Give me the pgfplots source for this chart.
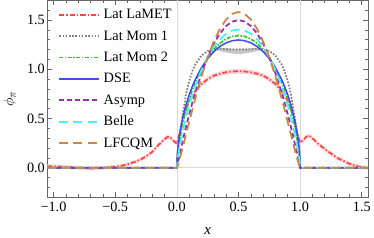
\documentclass[border=0pt]{standalone}
\usepackage{fontspec}
\setmainfont{Liberation Serif}
\usepackage{pgfplots}
\pgfplotsset{compat=1.18}
\usepackage{pgfplotstable}

\definecolor{cLaMET}{rgb}{1,0.28,0.28}
\definecolor{cMomA}{rgb}{0.5,0.5,0.5}
\definecolor{cMomB}{rgb}{0.25,0.75,0.2}
\definecolor{cDSE}{rgb}{0.28,0.28,0.95}
\definecolor{cAsy}{rgb}{0.58,0.2,0.68}
\definecolor{cBelle}{rgb}{0.3,0.95,0.95}
\definecolor{cLFC}{rgb}{0.8,0.53,0.27}

\pgfplotsset{
  sLaMET/.style={cLaMET, line width=1.8pt, dash pattern=on 5pt off 2pt on 1.5pt off 2pt},
  sMomA/.style={cMomA, line width=1.8pt, dash pattern=on 1.6pt off 1.6pt},
  sMomB/.style={cMomB, line width=1.8pt, dash pattern=on 4pt off 1.5pt on 1.5pt off 1.5pt},
  sDSE/.style={cDSE, line width=1.5pt},
  sAsy/.style={cAsy, line width=1.8pt, dash pattern=on 5pt off 3pt},
  sBelle/.style={cBelle, line width=1.8pt, dash pattern=on 9pt off 5pt},
  sLFC/.style={cLFC, line width=1.8pt, dash pattern=on 9pt off 5pt},
}

\pgfplotstableread{
x y
-1.05 0.015
-1.0 0.015
-0.9 0.008
-0.8 0.0
-0.7 -0.008
-0.6 0.0
-0.5 0.01
-0.45 0.02
-0.4 0.035
-0.35 0.055
-0.3 0.08
-0.25 0.115
-0.2 0.16
-0.15 0.23
-0.1 0.29
-0.075 0.315
-0.05 0.305
-0.025 0.27
0.0 0.245
0.025 0.36
0.05 0.50
0.1 0.68
0.15 0.78
0.2 0.85
0.25 0.90
0.3 0.935
0.35 0.955
0.4 0.97
0.45 0.978
0.5 0.98
0.55 0.978
0.6 0.97
0.65 0.955
0.7 0.935
0.75 0.90
0.8 0.85
0.85 0.78
0.9 0.68
0.95 0.50
0.975 0.36
1.0 0.255
1.025 0.28
1.05 0.315
1.075 0.325
1.1 0.30
1.15 0.24
1.2 0.19
1.25 0.145
1.3 0.10
1.35 0.07
1.4 0.04
1.45 0.02
1.5 0.005
1.55 0.0
}\lamet

% LaMET error band: upper edge left to right, then lower edge right to left
\pgfplotstableread{
x y
-1.05 0.035
-1.0 0.035
-0.9 0.028
-0.8 0.02
-0.7 0.012
-0.6 0.02
-0.5 0.03
-0.45 0.04
-0.4 0.055
-0.35 0.075
-0.3 0.10
-0.25 0.135
-0.2 0.18
-0.15 0.25
-0.1 0.31
-0.075 0.335
-0.05 0.325
-0.025 0.29
0 0.265
0.025 0.38
0.05 0.52
0.1 0.705
0.15 0.805
0.2 0.875
0.25 0.925
0.3 0.96
0.35 0.98
0.4 0.995
0.45 1.003
0.5 1.005
0.55 1.003
0.6 0.995
0.65 0.98
0.7 0.96
0.75 0.925
0.8 0.875
0.85 0.805
0.9 0.705
0.95 0.52
0.975 0.38
1.0 0.275
1.025 0.30
1.05 0.335
1.075 0.345
1.1 0.32
1.15 0.26
1.2 0.21
1.25 0.165
1.3 0.12
1.35 0.09
1.4 0.06
1.45 0.04
1.5 0.025
1.55 0.02
1.55 -0.02
1.5 -0.015
1.45 0.0
1.4 0.02
1.35 0.05
1.3 0.08
1.25 0.125
1.2 0.17
1.15 0.22
1.1 0.28
1.075 0.305
1.05 0.295
1.025 0.26
1.0 0.235
0.975 0.34
0.95 0.48
0.9 0.655
0.85 0.755
0.8 0.825
0.75 0.875
0.7 0.91
0.65 0.93
0.6 0.945
0.55 0.953
0.5 0.955
0.45 0.953
0.4 0.945
0.35 0.93
0.3 0.91
0.25 0.875
0.2 0.825
0.15 0.755
0.1 0.655
0.05 0.48
0.025 0.34
0 0.225
-0.025 0.25
-0.05 0.285
-0.075 0.295
-0.1 0.27
-0.15 0.21
-0.2 0.14
-0.25 0.095
-0.3 0.06
-0.35 0.035
-0.4 0.015
-0.45 0.0
-0.5 -0.01
-0.6 -0.02
-0.7 -0.028
-0.8 -0.02
-0.9 -0.012
-1.0 -0.005
-1.05 -0.005
}\lametband

\pgfplotstableread{
x y
0.3 1.21
0.35 1.215
0.4 1.213
0.45 1.21
0.5 1.21
0.55 1.21
0.6 1.213
0.65 1.215
0.7 1.21
0.7 1.2
0.65 1.185
0.6 1.17
0.55 1.16
0.5 1.155
0.45 1.16
0.4 1.17
0.35 1.185
0.3 1.2
}\momband

\pgfplotstableread{
x asy lfc bel momb dse moma
-1.05 0 0 0 0 0 0
0 0 0 0 0 0 0
0.005 0.0299 0.0144 0.0662 0.1095 0.150 0.12
0.01 0.0594 0.0328 0.1131 0.1701 0.2197 0.20
0.02 0.1176 0.0745 0.1928 0.2633 0.3200 0.32
0.05 0.285 0.2157 0.3847 0.4640 0.5206 0.56
0.075 0.4163 0.3396 0.5168 0.5913 0.6411 0.75
0.1 0.54 0.464 0.6333 0.6984 0.7398 0.88
0.125 0.6563 0.5866 0.7371 0.7913 0.8236 0.98
0.15 0.765 0.705 0.8307 0.8728 0.8960 1.05
0.2 0.96 0.926 0.9916 1.0093 1.0153 1.14
0.25 1.125 1.120 1.1223 1.1172 1.1078 1.185
0.3 1.26 1.283 1.2263 1.2013 1.1791 1.205
0.35 1.365 1.413 1.3050 1.2644 1.2321 1.21
0.4 1.44 1.506 1.3605 1.3085 1.2689 1.205
0.45 1.485 1.563 1.3935 1.3345 1.2905 1.20
0.5 1.5 1.582 1.404 1.343 1.298 1.20
0.55 1.485 1.563 1.3935 1.3345 1.2905 1.20
0.6 1.44 1.506 1.3605 1.3085 1.2689 1.205
0.65 1.365 1.413 1.3050 1.2644 1.2321 1.21
0.7 1.26 1.283 1.2263 1.2013 1.1791 1.205
0.75 1.125 1.120 1.1223 1.1172 1.1078 1.185
0.8 0.96 0.926 0.9916 1.0093 1.0153 1.14
0.85 0.765 0.705 0.8307 0.8728 0.8960 1.05
0.875 0.6563 0.5866 0.7371 0.7913 0.8236 0.98
0.9 0.54 0.464 0.6333 0.6984 0.7398 0.88
0.925 0.4163 0.3396 0.5168 0.5913 0.6411 0.75
0.95 0.285 0.2157 0.3847 0.4640 0.5206 0.56
0.98 0.1176 0.0745 0.1928 0.2633 0.3200 0.32
0.99 0.0594 0.0328 0.1131 0.1701 0.2197 0.20
0.995 0.0299 0.0144 0.0662 0.1095 0.150 0.12
1 0 0 0 0 0 0
1.55 0 0 0 0 0 0
}\models

\begin{document}
\begin{tikzpicture}
\begin{axis}[
  scale only axis,
  width=319bp, height=196bp,
  xmin=-1.05, xmax=1.55, ymin=-0.3, ymax=1.7,
  axis line style={black!60, line width=0.7pt},
  tick align=inside,
  xtick={-1,-0.5,0,0.5,1,1.5},
  xticklabels={−1.0,−0.5,0.0,0.5,1.0,1.5},
  ytick={0,0.5,1,1.5},
  yticklabels={0.0,0.5,1.0,1.5},
  minor xtick={-1,-0.9,-0.8,-0.7,-0.6,-0.4,-0.3,-0.2,-0.1,0.1,0.2,0.3,0.4,0.6,0.7,0.8,0.9,1.1,1.2,1.3,1.4},
  minor ytick={-0.3,-0.2,-0.1,0.1,0.2,0.3,0.4,0.6,0.7,0.8,0.9,1.1,1.2,1.3,1.4,1.6,1.7},
  major tick length=5bp, minor tick length=3bp,
  every tick/.style={black!60, line width=0.6pt},
  ticklabel style={font=\fontsize{14.2}{17}\selectfont},
  xticklabel style={yshift=-1bp},
  yticklabel style={xshift=1bp},
  xlabel={\textit{x}},
  ylabel={$\phi_{\pi}$},
  label style={font=\fontsize{15}{17}\selectfont},
  xlabel style={yshift=-9bp},
  ylabel style={yshift=4bp},
  legend cell align=left,
  legend image post style={xscale=2.3},
  legend style={draw=none, fill=none, at={(axis description cs:0.025,0.975)}, anchor=north west,
    font=\fontsize{14.3}{17}\selectfont, row sep=6.3bp,
    nodes={inner xsep=4bp}},
]
\addplot[fill=cLaMET!22, draw=none, forget plot] table[x=x, y=y] {\lametband} -- cycle;
\addplot[fill=black!22, draw=none, forget plot] table[x=x, y=y] {\momband} -- cycle;

\draw[black!15, line width=0.6pt] (axis cs:0,-0.3) -- (axis cs:0,1.7);
\draw[black!15, line width=0.6pt] (axis cs:1,-0.3) -- (axis cs:1,1.7);
\draw[black!15, line width=0.6pt] (axis cs:-1.05,0) -- (axis cs:1.55,0);

\addplot[sLaMET] table[x=x, y=y] {\lamet};
\addlegendentry{Lat LaMET}
\addplot[sMomA] table[x=x, y=moma] {\models};
\addlegendentry{Lat Mom 1}
\addplot[sMomB] table[x=x, y=momb] {\models};
\addlegendentry{Lat Mom 2}
\addplot[sDSE] table[x=x, y=dse] {\models};
\addlegendentry{DSE}
\addplot[sAsy] table[x=x, y=asy] {\models};
\addlegendentry{Asymp}
\addplot[sBelle] table[x=x, y=bel] {\models};
\addlegendentry{Belle}
\addplot[sLFC] table[x=x, y=lfc] {\models};
\addlegendentry{LFCQM}
\end{axis}
\end{tikzpicture}
\end{document}
